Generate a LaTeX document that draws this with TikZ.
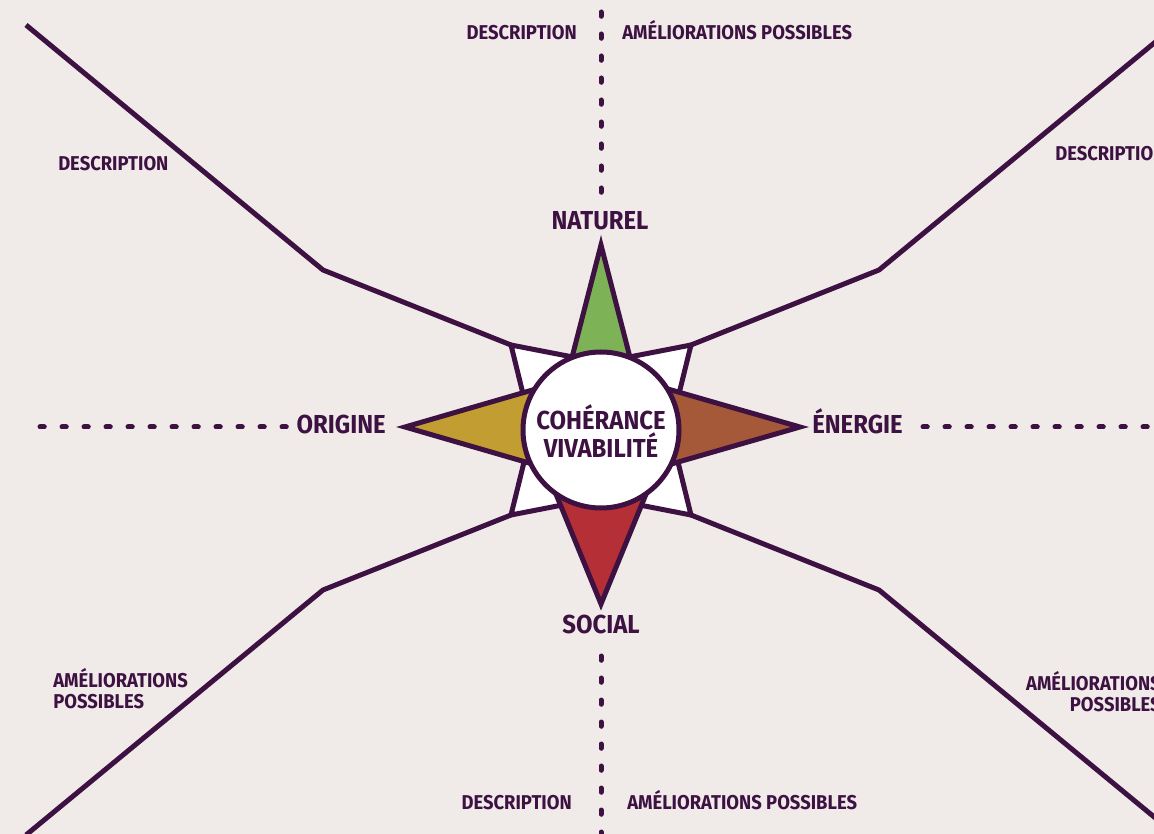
\documentclass[tikz,border=0pt]{standalone}
\usepackage{fontspec}
\setmainfont{Fira Sans}[FakeStretch=0.92]
\usepackage{tikz}
\definecolor{prune}{HTML}{3D1242}
\definecolor{fond}{HTML}{F0EBE8}
\definecolor{vert}{HTML}{7DB356}
\definecolor{ocre}{HTML}{C19D32}
\definecolor{brique}{HTML}{A65938}
\definecolor{rouge}{HTML}{B52F37}
\tikzset{
    trait/.style={prune, line width=3.75pt, line join=round},
    pointille/.style={prune, line width=3.75pt, line cap=round, dash pattern=on 3.2pt off 13.3pt},
    branche/.style={draw=prune, line width=3.75pt, line join=miter},
    grand/.style={text=prune, font=\bfseries\fontsize{19.5}{22}\selectfont, inner sep=0pt},
    petit/.style={text=prune, font=\bfseries\fontsize{15}{15.75}\selectfont, inner sep=0pt, align=left},
}

\begin{document}
\begin{tikzpicture}[x=0.75pt, y=-0.75pt]
\useasboundingbox (0,0) rectangle (1154,834);
\clip (0,0) rectangle (1154,834);
\fill[fond] (0,0) rectangle (1154,834);
% axes en pointilles
\draw[pointille] (601,12)--(601,205);
\draw[pointille] (601,656)--(601,840);
\draw[pointille] (40,427)--(290,427);
\draw[pointille] (923,427)--(1160,427);
% grandes lignes
\draw[trait] (26,25)--(323,270)--(511,345);
\draw[trait] (1176,25)--(879,270)--(691,345);
\draw[trait] (26,835)--(323,590)--(511,515);
\draw[trait] (1176,835)--(879,590)--(691,515);
% rose des vents : pointes blanches
\coordinate (c) at (601,430);
\filldraw[branche, fill=white] (511,345)--(583,359)--(c)--(527,410)--cycle;
\filldraw[branche, fill=white] (691,345)--(619,359)--(c)--(675,410)--cycle;
\filldraw[branche, fill=white] (511,515)--(583,501)--(c)--(527,450)--cycle;
\filldraw[branche, fill=white] (691,515)--(619,501)--(c)--(675,450)--cycle;
% pointes de couleur
\filldraw[branche, fill=vert] (601,245)--(561,400)--(641,400)--cycle;
\filldraw[branche, fill=rouge] (601,604)--(542,460)--(660,460)--cycle;
\filldraw[branche, fill=ocre] (405,427)--(560,382)--(560,472)--cycle;
\filldraw[branche, fill=brique] (800,427)--(640,381)--(640,473)--cycle;
\filldraw[branche, fill=white] (c) circle (78);
\node[grand] (centre1) at (601,417) {COHÉRANCE};
\node[grand] (centre2) at (601,445) {VIVABILITÉ};
% points cardinaux
\node[grand, anchor=base] (naturel) at (600,230) {NATUREL};
\node[grand, anchor=base] (social) at (601,633) {SOCIAL};
\node[grand, anchor=base east] (origine) at (386,434) {ORIGINE};
\node[grand, anchor=base west] (energie) at (812,434) {ÉNERGIE};
% etiquettes
\node[petit, anchor=base east] (desc1) at (577,40) {DESCRIPTION};
\node[petit, anchor=base west] (amel1) at (622,40) {AMÉLIORATIONS POSSIBLES};
\node[petit, anchor=base west] (desc2) at (58,171) {DESCRIPTION};
\node[petit, anchor=base west] (desc3) at (1055,161) {DESCRIPTION};
\node[petit, anchor=north west] (amel2) at (53,668) {AMÉLIORATIONS\\POSSIBLES};
\node[petit, anchor=north east, align=right] (amel3) at (1161,671) {AMÉLIORATIONS\\POSSIBLES};
\node[petit, anchor=base east] (desc4) at (572,809) {DESCRIPTION};
\node[petit, anchor=base west] (amel4) at (627,809) {AMÉLIORATIONS POSSIBLES};
\end{tikzpicture}
\end{document}
